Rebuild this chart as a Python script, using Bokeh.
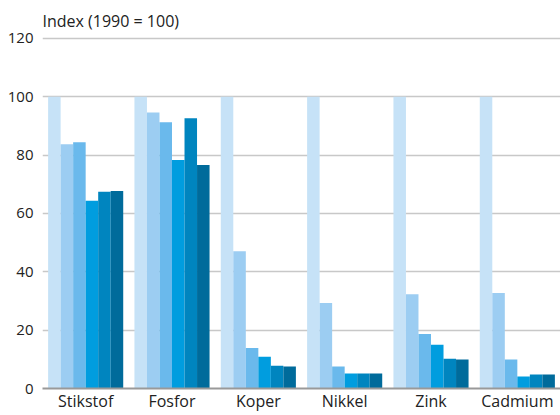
from bokeh.plotting import figure
from bokeh.models import ColumnDataSource, FactorRange, Title, Range1d
from bokeh.transform import dodge
from bokeh.embed import file_html
from bokeh.resources import INLINE

categories = ["Stikstof", "Fosfor", "Koper", "Nikkel", "Zink", "Cadmium"]
reeks_1 = [100, 100, 100, 100, 100, 100]
reeks_2 = [83.7, 94.6, 47.0, 29.3, 32.3, 32.7]
reeks_3 = [84.4, 91.2, 13.9, 7.5, 18.7, 9.9]
reeks_4 = [64.3, 78.3, 10.9, 5.1, 15.0, 4.1]
reeks_5 = [67.4, 92.6, 7.8, 5.1, 10.2, 4.8]
reeks_6 = [67.7, 76.6, 7.5, 5.1, 9.9, 4.8]
y_ticks = [0, 20, 40, 60, 80, 100, 120]

series = [reeks_1, reeks_2, reeks_3, reeks_4, reeks_5, reeks_6]
colors = ["#c6e2f7", "#9ccdf2", "#6ab9ec", "#009ddf", "#0085bf", "#006b9b"]

data = {"cat": categories}
for i, s in enumerate(series):
    data[f"r{i}"] = s
source = ColumnDataSource(data)

p = figure(
    x_range=FactorRange(*categories, range_padding=0),
    y_range=Range1d(0, 120.6),
    width=560, height=415,
    output_backend="svg", toolbar_location=None,
    min_border_left=42, min_border_right=0, min_border_top=36, min_border_bottom=27,
)
p.outline_line_color = None

w = 0.145
for i in range(6):
    off = (i - 2.5) * w
    p.vbar(x=dodge("cat", off, range=p.x_range), top=f"r{i}", width=w,
           source=source, fill_color=colors[i], line_color=None)

p.title = Title(text="Index (1990 = 100)", align="left", text_font="Open Sans",
                text_font_size="16px", text_font_style="normal", text_color="#222222",
                standoff=10)

p.xgrid.grid_line_color = None
p.ygrid.grid_line_color = "#c8c8c8"
p.ygrid.grid_line_width = 1.5
p.yaxis.ticker = y_ticks
p.yaxis.axis_line_color = None
p.yaxis.major_tick_line_color = None
p.yaxis.minor_tick_line_color = None
p.yaxis.major_tick_in = 0
p.yaxis.major_tick_out = 0
p.yaxis.major_label_standoff = 9
p.yaxis.major_label_text_font = "Open Sans"
p.yaxis.major_label_text_font_size = "15px"
p.yaxis.major_label_text_color = "#222222"

p.xaxis.axis_line_color = "#999999"
p.xaxis.axis_line_width = 2
p.xaxis.major_tick_line_color = None
p.xaxis.minor_tick_line_color = None
p.xaxis.major_tick_in = 0
p.xaxis.major_tick_out = 0
p.xaxis.major_label_standoff = 1
p.xaxis.major_label_text_font = "Open Sans"
p.xaxis.major_label_text_font_size = "16px"
p.xaxis.major_label_text_color = "#222222"

open("out.html", "w").write(file_html(p, INLINE))
